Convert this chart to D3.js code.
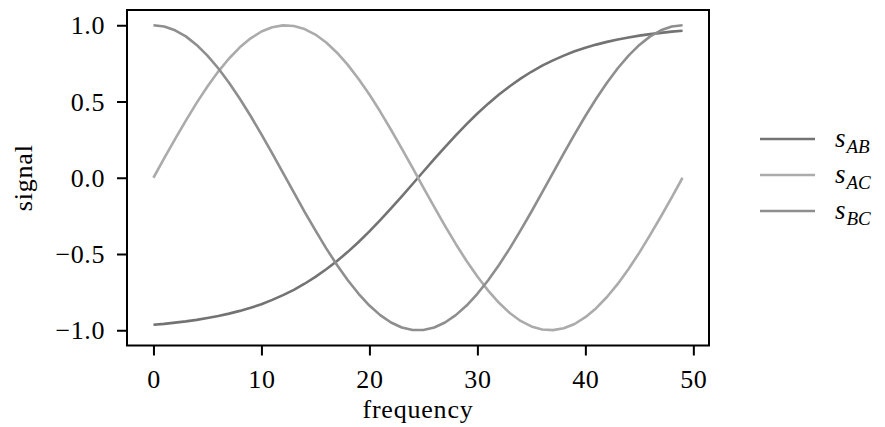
<!DOCTYPE html>
<html>
<head>
<meta charset="utf-8">
<script src="https://cdn.jsdelivr.net/npm/d3@7"></script>
<style>
  html, body { margin: 0; padding: 0; background: #fff; }
  svg { display: block; }
  text { font-family: "Liberation Serif", "DejaVu Serif", serif; fill: #000; }
</style>
</head>
<body>
<svg id="chart" width="885" height="427"></svg>
<script>
// Frequency bins 0..49
const frequency = d3.range(50);

const sAB = [-0.964, -0.958, -0.950, -0.942, -0.932, -0.920, -0.907, -0.891, -0.873, -0.853,
  -0.829, -0.801, -0.770, -0.735, -0.695, -0.650, -0.600, -0.546, -0.486, -0.421,
  -0.352, -0.278, -0.201, -0.122, -0.041, 0.041, 0.122, 0.201, 0.278, 0.352,
  0.421, 0.486, 0.546, 0.600, 0.650, 0.695, 0.735, 0.770, 0.801, 0.829,
  0.853, 0.873, 0.891, 0.907, 0.920, 0.932, 0.942, 0.950, 0.958, 0.964];

const sAC = [0.000, 0.128, 0.254, 0.375, 0.491, 0.598, 0.696, 0.782, 0.855, 0.914,
  0.959, 0.987, 0.999, 0.995, 0.975, 0.939, 0.887, 0.820, 0.740, 0.648,
  0.546, 0.434, 0.315, 0.191, 0.064, -0.064, -0.191, -0.315, -0.434, -0.546,
  -0.648, -0.740, -0.820, -0.887, -0.939, -0.975, -0.995, -0.999, -0.987, -0.959,
  -0.914, -0.855, -0.782, -0.696, -0.598, -0.491, -0.375, -0.254, -0.128, 0.000];

const sBC = [1.000, 0.992, 0.967, 0.927, 0.871, 0.801, 0.718, 0.623, 0.518, 0.405,
  0.285, 0.160, 0.032, -0.096, -0.223, -0.345, -0.463, -0.572, -0.672, -0.761,
  -0.838, -0.901, -0.949, -0.982, -0.998, -0.998, -0.982, -0.949, -0.901, -0.838,
  -0.761, -0.672, -0.572, -0.463, -0.345, -0.223, -0.096, 0.032, 0.160, 0.285,
  0.405, 0.518, 0.623, 0.718, 0.801, 0.871, 0.927, 0.967, 0.992, 1.000];

const xTicks = [0, 10, 20, 30, 40, 50];
const yTicks = [-1.0, -0.5, 0.0, 0.5, 1.0];

const seriesNames = [["s", "AB"], ["s", "AC"], ["s", "BC"]];
const seriesValues = [sAB, sAC, sBC];
const seriesColors = ["#737373", "#ababab", "#8e8e8e"];

const svg = d3.select("#chart");
const plot = { left: 127, right: 709, top: 10, bottom: 345.5 };

const x = d3.scaleLinear().domain([-2.45, 51.45]).range([plot.left, plot.right]);
const y = d3.scaleLinear().domain([-1.1, 1.1]).range([plot.bottom, plot.top]);

const fmt = v => (v < 0 ? "\u2212" : "") + Math.abs(v).toFixed(1);
const labelSize = "26px";

// Curves
const line = d3.line().x((d, i) => x(frequency[i])).y(d => y(d));
seriesValues.forEach((vals, k) => {
  svg.append("path")
    .datum(vals)
    .attr("d", line)
    .attr("fill", "none")
    .attr("stroke", seriesColors[k])
    .attr("stroke-width", 2.6)
    .attr("stroke-linejoin", "round")
    .attr("stroke-linecap", "butt");
});

// Axes
const xAxis = d3.axisBottom(x).tickValues(xTicks).tickSize(10).tickPadding(8).tickFormat(d3.format("d"));
const yAxis = d3.axisLeft(y).tickValues(yTicks).tickSize(10).tickPadding(12).tickFormat(fmt);

const gx = svg.append("g").attr("transform", `translate(0,${plot.bottom})`).call(xAxis);
const gy = svg.append("g").attr("transform", `translate(${plot.left},0)`).call(yAxis);
[gx, gy].forEach(g => {
  g.select(".domain").remove();
  g.selectAll(".tick line").attr("stroke", "#000").attr("stroke-width", 2);
  g.selectAll(".tick text")
    .style("font-family", '"Liberation Serif", "DejaVu Serif", serif')
    .style("font-size", labelSize)
    .style("letter-spacing", "0.6px")
    .attr("fill", "#000");
});
gx.selectAll(".tick text").attr("dy", null).attr("y", 0).attr("dominant-baseline", null)
  .attr("transform", "translate(0,42)");
gy.selectAll(".tick text").attr("dy", "0.33em");

// Frame
svg.append("rect")
  .attr("x", plot.left).attr("y", plot.top)
  .attr("width", plot.right - plot.left).attr("height", plot.bottom - plot.top)
  .attr("fill", "none").attr("stroke", "#000").attr("stroke-width", 2);

// Axis titles
svg.append("text")
  .attr("x", (plot.left + plot.right) / 2).attr("y", 418)
  .attr("text-anchor", "middle").style("font-size", labelSize)
  .style("letter-spacing", "0.8px")
  .text("frequency");
svg.append("text")
  .attr("transform", `translate(32,${(plot.top + plot.bottom) / 2}) rotate(-90)`)
  .attr("text-anchor", "middle").style("font-size", labelSize)
  .style("letter-spacing", "0.8px")
  .text("signal");

// Legend
const legend = svg.append("g");
seriesNames.forEach((nm, k) => {
  const ly = 139 + k * 36;
  legend.append("line")
    .attr("x1", 760).attr("x2", 815).attr("y1", ly).attr("y2", ly)
    .attr("stroke", seriesColors[k]).attr("stroke-width", 2.6);
  const t = legend.append("text")
    .attr("x", 835).attr("y", ly + 8)
    .style("font-size", "27px").style("font-style", "italic");
  t.append("tspan").text(nm[0]);
  t.append("tspan").attr("dy", 6).attr("dx", 1).style("font-size", "19px").text(nm[1]);
});
</script>
</body>
</html>
